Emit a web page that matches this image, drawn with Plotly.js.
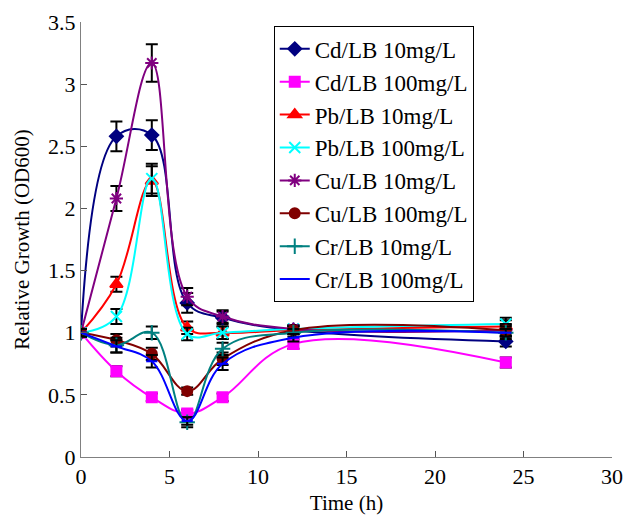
<!DOCTYPE html>
<html><head><meta charset="utf-8">
<script src="https://cdn.plot.ly/plotly-3.0.1.min.js"></script>
<style>body{margin:0;background:#fff}#chart{width:630px;height:515px}</style>
</head><body><div id="chart"></div>
<script>
const time = [0, 2, 4, 6, 8, 12, 24];
const seriesNames = ["Cd/LB 10mg/L","Cd/LB 100mg/L","Pb/LB 10mg/L","Pb/LB 100mg/L","Cu/LB 10mg/L","Cu/LB 100mg/L","Cr/LB 10mg/L","Cr/LB 100mg/L"];
const cd10  = [1.0, 2.58, 2.59, 1.24, 1.12, 1.02, 0.93];
const cd100 = [1.0, 0.69, 0.48, 0.35, 0.48, 0.91, 0.76];
const pb10  = [1.0, 1.39, 2.22, 1.04, 1.0, 1.02, 1.05];
const pb100 = [1.0, 1.13, 2.24, 0.99, 1.0, 1.03, 1.07];
const cu10  = [1.0, 2.08, 3.17, 1.29, 1.13, 1.03, 1.02];
const cu100 = [1.0, 0.94, 0.83, 0.53, 0.79, 1.02, 1.02];
const cr10  = [1.0, 0.90, 1.0, 0.28, 0.87, 1.0, 1.0];
const cr100 = [1.0, 0.89, 0.77, 0.29, 0.75, 0.96, 1.0];
const errCd10  = [0.03, 0.12, 0.12, 0.08, 0.05, 0.03, 0.04];
const errCd100 = [0.03, 0.04, 0.03, 0.03, 0.03, 0.04, 0.04];
const errPb10  = [0.03, 0.06, 0.12, 0.05, 0.05, 0.03, 0.05];
const errPb100 = [0.03, 0.06, 0.12, 0.05, 0.05, 0.03, 0.05];
const errCu10  = [0.03, 0.10, 0.15, 0.07, 0.05, 0.03, 0.05];
const errCu100 = [0.03, 0.05, 0.05, 0.03, 0.05, 0.03, 0.04];
const errCr10  = [0.03, 0.06, 0.05, 0.04, 0.05, 0.03, 0.05];
const errCr100 = [0.03, 0.05, 0.05, 0.03, 0.05, 0.03, 0.03];

const values = [cd10, cd100, pb10, pb100, cu10, cu100, cr10, cr100];
const errors = [errCd10, errCd100, errPb10, errPb100, errCu10, errCu100, errCr10, errCr100];
const colors = ["#000080","#FF00FF","#FF0000","#00FFFF","#800080","#800000","#008080","#0000FF"];
const symbols = ["diamond","square","triangle-up","x-thin-open","asterisk-open","circle","cross-thin-open","line-ew-open"];
const sizes = [10, 10, 11, 11, 11, 10, 11, 8];

const traces = values.map((v, i) => ({
  x: time, y: v, name: seriesNames[i], type: "scatter", mode: "lines+markers",
  legendgroup: "g" + i,
  line: {color: colors[i], width: 2, shape: "spline", smoothing: 1.1},
  marker: {symbol: symbols[i], size: sizes[i], color: colors[i], line: {color: colors[i], width: 2}},
  error_y: {type: "data", array: errors[i], visible: true, color: "#000", thickness: 2, width: 6}
}));

const layout = {
  width: 630, height: 515,
  margin: {l: 81, r: 18, t: 22, b: 58},
  paper_bgcolor: "#fff", plot_bgcolor: "#fff",
  font: {family: "Liberation Serif, Times New Roman, serif", color: "#000", size: 22},
  showlegend: true,
  legend: {x: 0.363, y: 0.99, xanchor: "left", yanchor: "top", bordercolor: "#000", borderwidth: 1,
    bgcolor: "#fff", font: {size: 23}, traceorder: "grouped", tracegroupgap: 0},
  xaxis: {range: [0, 30], tickvals: [0,5,10,15,20,25,30], ticks: "inside", ticklen: 6, tickcolor: "#555",
    showgrid: false, zeroline: false, showline: true, linecolor: "#808080", linewidth: 1,
    tickfont: {size: 22}, title: {text: "Time (h)", font: {size: 21}, standoff: 10}},
  yaxis: {range: [0, 3.5], tickvals: [0,0.5,1,1.5,2,2.5,3,3.5], ticks: "inside", ticklen: 6, tickcolor: "#555",
    showgrid: false, zeroline: false, showline: true, linecolor: "#808080", linewidth: 1,
    tickfont: {size: 22}, title: {text: "Relative Growth (OD600)", font: {size: 21}, standoff: 12}}
};
Plotly.newPlot("chart", traces, layout, {displayModeBar: false, staticPlot: true});
</script></body></html>
